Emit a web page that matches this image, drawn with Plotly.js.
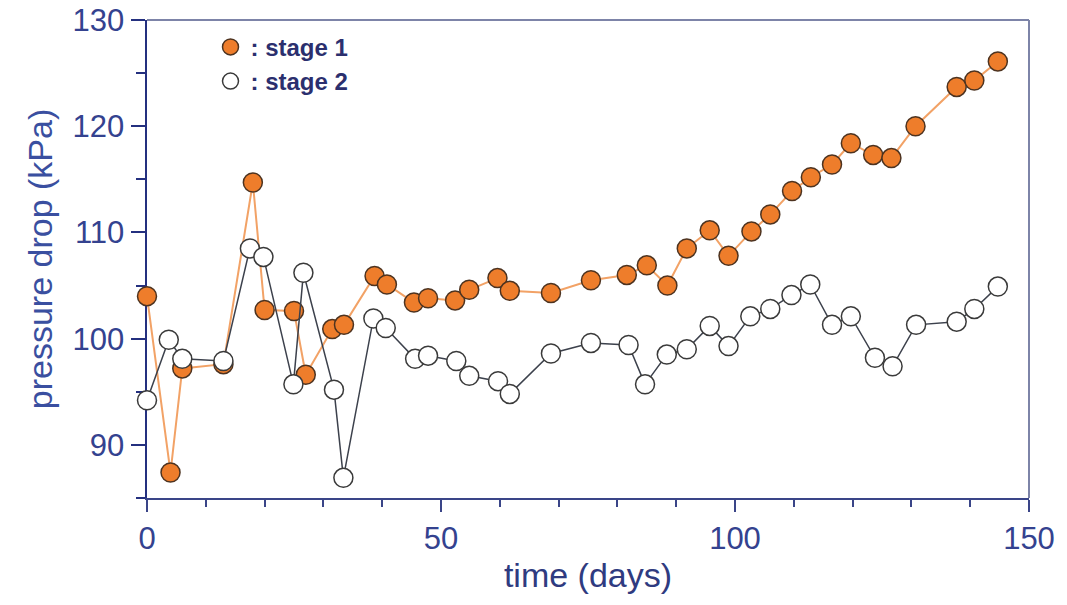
<!DOCTYPE html>
<html>
<head>
<meta charset="utf-8">
<script src="https://cdn.plot.ly/plotly-3.0.1.min.js"></script>
<style>html,body{margin:0;padding:0;background:#fff;}#chart{width:1067px;height:605px;}</style>
</head>
<body>
<div id="chart"></div>
<script>
// Stage 1 (filled orange circles)
const stage1Days = [0, 4, 6, 13, 18, 20, 25, 27, 31.5, 33.5, 38.7, 40.8, 45.4, 47.8, 52.4, 54.8, 59.6, 61.7, 68.7, 75.5, 81.6, 85, 88.5, 91.8, 95.7, 98.9, 102.8, 106, 109.7, 112.9, 116.5, 119.7, 123.5, 126.6, 130.7, 137.7, 140.7, 144.7];
const stage1Pressure = [104, 87.4, 97.2, 97.6, 114.7, 102.7, 102.6, 96.6, 100.9, 101.3, 105.9, 105.1, 103.4, 103.8, 103.6, 104.6, 105.7, 104.5, 104.3, 105.5, 106, 106.9, 105, 108.5, 110.2, 107.8, 110.1, 111.7, 113.9, 115.2, 116.4, 118.4, 117.3, 117, 120, 123.7, 124.3, 126.1];

// Stage 2 (open circles)
const stage2Days = [0, 3.7, 6, 13, 17.5, 19.8, 24.9, 26.6, 31.8, 33.4, 38.5, 40.6, 45.6, 47.8, 52.6, 54.8, 59.7, 61.7, 68.7, 75.5, 81.9, 84.7, 88.4, 91.8, 95.7, 98.9, 102.6, 106, 109.6, 112.8, 116.5, 119.7, 123.8, 126.8, 130.8, 137.7, 140.7, 144.7];
const stage2Pressure = [94.2, 99.9, 98.1, 97.9, 108.5, 107.7, 95.7, 106.2, 95.2, 86.9, 101.9, 101, 98.1, 98.4, 97.9, 96.5, 96, 94.8, 98.6, 99.6, 99.4, 95.7, 98.5, 99, 101.2, 99.3, 102.1, 102.8, 104.1, 105.1, 101.3, 102.1, 98.2, 97.4, 101.3, 101.6, 102.8, 104.9];

const legendNames = [':&nbsp;stage 1', ':&nbsp;stage 2'];
const xTickVals = [0, 50, 100, 150];
const yTickVals = [90, 100, 110, 120, 130];

const navy = '#24307f';
const tickBlue = '#34428f';
const font = 'Liberation Sans, Arial, sans-serif';

const orangeMarker = {size: 19, color: '#ee7d2b', line: {color: '#4d3320', width: 1.5}};
const whiteMarker = {size: 19, color: '#ffffff', line: {color: '#3a3a3a', width: 1.5}};

const traces = [
  {x: stage1Days, y: stage1Pressure, mode: 'lines+markers', type: 'scatter', showlegend: false,
   line: {color: '#f2a266', width: 2}, marker: orangeMarker, cliponaxis: false},
  {x: stage2Days, y: stage2Pressure, mode: 'lines+markers', type: 'scatter', showlegend: false,
   line: {color: '#3c414c', width: 1.5}, marker: whiteMarker, cliponaxis: false},
  {x: [null], y: [null], mode: 'markers', type: 'scatter', name: legendNames[0], marker: orangeMarker},
  {x: [null], y: [null], mode: 'markers', type: 'scatter', name: legendNames[1], marker: whiteMarker}
];

const layout = {
  width: 1067, height: 605,
  margin: {l: 147, r: 38, t: 20, b: 107},
  paper_bgcolor: '#ffffff', plot_bgcolor: '#ffffff',
  font: {family: font, color: tickBlue},
  showlegend: true,
  legend: {x: 0.072, y: 0.99, xanchor: 'left', yanchor: 'top', bgcolor: 'rgba(0,0,0,0)',
           font: {family: font, size: 24, color: '#2b2f6e', weight: 'bold'}, tracegroupgap: 0, itemwidth: 30},
  xaxis: {
    range: [0, 150], tickvals: xTickVals, ticktext: xTickVals.map(String),
    showgrid: false, zeroline: false, showline: true, linecolor: '#3a4588', linewidth: 2,
    ticks: 'outside', ticklen: 12, tickwidth: 2, tickcolor: '#3a4588',
    minor: {dtick: 10, ticks: 'outside', ticklen: 7, tickwidth: 2, tickcolor: '#3a4588', showgrid: false},
    tickfont: {family: font, size: 31, color: tickBlue},
    title: {text: 'time (days)', font: {family: font, size: 34, color: '#2f3b80'}, standoff: 8},
    layer: 'below traces', fixedrange: true
  },
  yaxis: {
    range: [85, 130], tickvals: yTickVals, ticktext: yTickVals.map(String),
    showgrid: false, zeroline: false, showline: true, linecolor: navy, linewidth: 2.5,
    ticks: 'outside', ticklen: 14, tickwidth: 2, tickcolor: navy,
    minor: {dtick: 5, ticks: 'outside', ticklen: 9, tickwidth: 2, tickcolor: navy, showgrid: false},
    tickfont: {family: font, size: 31, color: tickBlue},
    title: {text: 'pressure drop (kPa)', font: {family: font, size: 34, color: '#3a4fa0'}, standoff: 10},
    layer: 'below traces', fixedrange: true
  },
  shapes: [
    {type: 'line', xref: 'paper', yref: 'paper', x0: 0, x1: 1, y0: 1, y1: 1, line: {color: '#7d84a8', width: 2}, layer: 'below'},
    {type: 'line', xref: 'paper', yref: 'paper', x0: 1, x1: 1, y0: 0, y1: 1, line: {color: '#7d84a8', width: 2}, layer: 'below'}
  ]
};

Plotly.newPlot('chart', traces, layout, {displayModeBar: false, staticPlot: true});
</script>
</body>
</html>
